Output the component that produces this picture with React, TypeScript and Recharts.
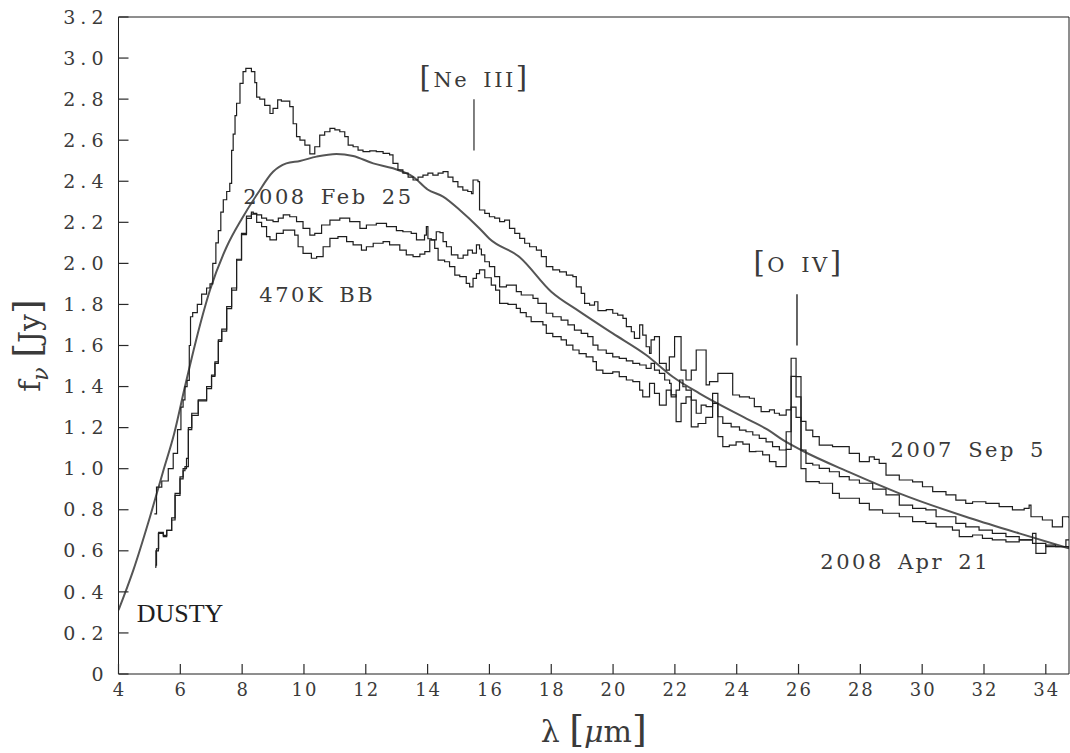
import React from 'react';
import { LineChart, Line, XAxis, YAxis, ReferenceLine, ReferenceDot } from 'recharts';

const FONT = '"DejaVu Serif", "Liberation Serif", serif';
const INK = '#1e1e1e';
const TEXT = '#3a3a3a';

const xTicks = [4, 6, 8, 10, 12, 14, 16, 18, 20, 22, 24, 26, 28, 30, 32, 34];
const yTicks = [0, 0.2, 0.4, 0.6, 0.8, 1.0, 1.2, 1.4, 1.6, 1.8, 2.0, 2.2, 2.4, 2.6, 2.8, 3.0, 3.2];

// 2007 Sep 5 (upper spectrum)
const sep5Wave = [
  5.16, 5.23, 5.4, 5.61, 5.77, 5.91, 6.02, 6.09, 6.15, 6.22, 6.29, 6.33, 6.4, 6.55, 6.69, 6.85, 6.96,
  7.05, 7.15, 7.23, 7.31, 7.39, 7.5, 7.6, 7.66, 7.71, 7.77, 7.82, 7.93, 8.03, 8.12, 8.3, 8.41, 8.47,
  8.57, 8.73, 8.9, 9.0, 9.15, 9.27, 9.43, 9.54, 9.65, 9.76, 9.87, 10.03, 10.19, 10.35, 10.51, 10.67,
  10.84, 11.0, 11.16, 11.32, 11.43, 11.59, 11.75, 11.91, 12.13, 12.34, 12.56, 12.77, 12.88, 13.04,
  13.2, 13.37, 13.53, 13.69, 13.85, 14.01, 14.17, 14.34, 14.5, 14.66, 14.82, 14.98, 15.14, 15.3,
  15.42, 15.47, 15.63, 15.68, 15.85, 16.0, 16.17, 16.33, 16.49, 16.65, 16.82, 16.98, 17.14, 17.3,
  17.52, 17.68, 17.84, 18.05, 18.27, 18.49, 18.7, 18.81, 18.97, 19.08, 19.24, 19.4, 19.51, 19.78,
  19.99, 20.15, 20.32, 20.43, 20.59, 20.69, 20.86, 20.96, 21.07, 21.18, 21.23, 21.34, 21.5, 21.72,
  21.82, 21.99, 22.2, 22.36, 22.53, 22.69, 23.01, 23.12, 23.39, 23.66, 23.87, 24.09, 24.41, 24.57,
  24.79, 25.06, 25.22, 25.38, 25.6, 25.76, 25.92, 26.08, 26.24, 26.46, 26.67, 27.1, 27.32, 27.64,
  27.97, 28.29, 28.45, 28.61, 28.83, 29.26, 29.69, 30.01, 30.34, 30.77, 31.09, 31.41, 31.63, 32.06,
  32.49, 32.92, 33.3, 33.46, 33.52, 33.89, 34.21, 34.54, 34.75,
];
const sep5Flux = [
  0.78, 0.91, 0.94, 1.0, 1.075, 1.19, 1.3, 1.335, 1.4, 1.43, 1.6, 1.74, 1.76, 1.8, 1.85, 1.88, 1.9,
  2.0, 2.1, 2.16, 2.25, 2.31, 2.35, 2.39, 2.55, 2.63, 2.72, 2.78, 2.877, 2.934, 2.95, 2.934, 2.88, 2.81,
  2.8, 2.77, 2.73, 2.755, 2.796, 2.79, 2.79, 2.763, 2.68, 2.617, 2.6, 2.576, 2.533, 2.568, 2.625, 2.641,
  2.658, 2.65, 2.641, 2.617, 2.576, 2.568, 2.552, 2.544, 2.548, 2.544, 2.536, 2.528, 2.487, 2.455,
  2.44, 2.42, 2.406, 2.42, 2.43, 2.44, 2.43, 2.44, 2.447, 2.42, 2.398, 2.373, 2.357, 2.35,
  2.34, 2.406, 2.398, 2.26, 2.244, 2.227, 2.22, 2.203, 2.211, 2.17, 2.146, 2.122, 2.098, 2.081,
  2.065, 2.033, 1.984, 1.968, 1.959, 1.943, 1.935, 1.886, 1.854, 1.805, 1.797, 1.813, 1.77, 1.775,
  1.757, 1.748, 1.732, 1.692, 1.667, 1.635, 1.7, 1.651, 1.594, 1.562, 1.627, 1.643, 1.513, 1.48,
  1.545, 1.643, 1.48, 1.432, 1.48, 1.578, 1.408, 1.424, 1.464, 1.464, 1.359, 1.35, 1.343, 1.302,
  1.278, 1.286, 1.27, 1.261, 1.286, 1.538, 1.448, 1.23, 1.188, 1.156, 1.115, 1.107, 1.107, 1.075,
  1.034, 1.058, 1.045, 1.026, 0.969, 0.945, 0.936, 0.912, 0.888, 0.872, 0.847, 0.831, 0.839, 0.831,
  0.815, 0.799, 0.807, 0.823, 0.766, 0.75, 0.717, 0.766, 0.76,
];

// 2008 Feb 25 (middle spectrum)
const feb25Wave = [
  5.18, 5.21, 5.29, 5.45, 5.56, 5.72, 5.83, 5.99, 6.09, 6.15, 6.26, 6.37, 6.58, 6.85, 7.01, 7.12, 7.23,
  7.34, 7.5, 7.66, 7.82, 7.98, 8.14, 8.3, 8.36, 8.47, 8.63, 8.79, 9.0, 9.17, 9.33, 9.54, 9.76, 9.97,
  10.19, 10.35, 10.57, 10.84, 11.16, 11.48, 11.81, 12.02, 12.34, 12.67, 12.99, 13.2, 13.47, 13.64,
  13.9, 13.96, 14.01, 14.12, 14.28, 14.4, 14.5, 14.61, 14.77, 14.98, 15.15, 15.3, 15.45, 15.58, 15.68,
  15.74, 15.85, 16.0, 16.17, 16.33, 16.55, 16.87, 17.03, 17.41, 17.57, 17.84, 18.05, 18.32, 18.54,
  18.75, 18.97, 19.18, 19.35, 19.51, 19.78, 19.99, 20.2, 20.43, 20.64, 20.86, 21.07, 21.23, 21.34,
  21.5, 21.67, 21.83, 21.88, 22.04, 22.15, 22.26, 22.36, 22.53, 22.69, 22.85, 23.01, 23.22, 23.39,
  23.55, 23.82, 24.09, 24.3, 24.52, 24.73, 24.95, 25.16, 25.38, 25.6, 25.76, 25.92, 26.08, 26.24,
  26.46, 26.67, 27.0, 27.32, 27.64, 27.97, 28.4, 28.83, 29.26, 29.69, 30.12, 30.45, 30.88, 31.09,
  31.41, 31.84, 32.27, 32.71, 33.14, 33.57, 33.68, 34.0, 34.32, 34.65, 34.75,
];
const feb25Flux = [
  0.52, 0.6, 0.685, 0.669, 0.7, 0.75, 0.88, 0.96, 0.99, 1.01, 1.19, 1.27, 1.335, 1.4, 1.456, 1.513, 1.627,
  1.68, 1.789, 1.87, 2.016, 2.146, 2.219, 2.25, 2.244, 2.236, 2.22, 2.211, 2.203, 2.22, 2.236, 2.227, 2.203, 2.17,
  2.138, 2.146, 2.187, 2.211, 2.22, 2.203, 2.17, 2.187, 2.195, 2.179, 2.16, 2.154, 2.146, 2.114,
  2.138, 2.179, 2.12, 2.114, 2.154, 2.15, 2.106, 2.081, 2.041, 2.025, 2.04, 2.065, 2.05, 2.09, 2.07,
  2.041, 2.008, 1.984, 1.935, 1.886, 1.894, 1.862, 1.846, 1.83, 1.805, 1.757, 1.74, 1.724, 1.7,
  1.675, 1.659, 1.643, 1.602, 1.578, 1.562, 1.545, 1.537, 1.525, 1.513, 1.505, 1.489, 1.513, 1.48,
  1.464, 1.432, 1.416, 1.35, 1.383, 1.432, 1.399, 1.383, 1.334, 1.27, 1.31, 1.302, 1.367, 1.253,
  1.221, 1.204, 1.188, 1.18, 1.164, 1.148, 1.131, 1.107, 1.091, 1.094, 1.45, 1.35, 1.091, 1.026,
  1.018, 1.002, 0.985, 0.961, 0.945, 0.929, 0.9, 0.872, 0.823, 0.807, 0.799, 0.766, 0.766, 0.734,
  0.717, 0.701, 0.685, 0.669, 0.653, 0.685, 0.588, 0.628, 0.62, 0.653, 0.65,
];

// 2008 Apr 21 (lower spectrum)
const apr21Wave = [
  5.2, 5.23, 5.3, 5.45, 5.56, 5.72, 5.83, 5.99, 6.09, 6.2, 6.26, 6.37, 6.58, 6.85, 7.01, 7.12, 7.23,
  7.34, 7.5, 7.66, 7.82, 7.98, 8.14, 8.3, 8.47, 8.63, 8.79, 8.9, 9.11, 9.33, 9.54, 9.7, 9.81, 9.97,
  10.24, 10.41, 10.62, 10.84, 11.1, 11.38, 11.59, 11.86, 12.02, 12.24, 12.56, 12.77, 13.1, 13.31,
  13.53, 13.75, 13.91, 14.07, 14.23, 14.34, 14.55, 14.71, 14.88, 15.04, 15.25, 15.36, 15.47, 15.58,
  15.68, 15.85, 16.06, 16.2, 16.33, 16.6, 16.87, 17.0, 17.19, 17.35, 17.73, 17.84, 18.05, 18.32,
  18.49, 18.7, 18.9, 19.13, 19.35, 19.46, 19.67, 19.99, 20.2, 20.43, 20.64, 20.86, 20.96, 21.18,
  21.34, 21.5, 21.72, 21.88, 22.04, 22.2, 22.36, 22.53, 22.75, 23.0, 23.22, 23.39, 23.55, 23.76,
  23.98, 24.2, 24.41, 24.62, 24.84, 25.06, 25.27, 25.45, 25.6, 25.76, 25.92, 26.08, 26.24, 26.67,
  27.1, 27.32, 27.75, 27.97, 28.29, 28.72, 29.26, 29.69, 30.12, 30.45, 30.98, 31.2, 31.63, 31.95,
  32.27, 32.71, 33.14, 33.57, 34.0, 34.43, 34.75,
];
const apr21Flux = [
  0.53, 0.61, 0.69, 0.675, 0.7, 0.76, 0.87, 0.95, 1.0, 1.05, 1.2, 1.26, 1.33, 1.39, 1.45, 1.52, 1.62,
  1.67, 1.78, 1.88, 2.02, 2.14, 2.23, 2.24, 2.2, 2.179, 2.13, 2.114, 2.146, 2.162, 2.162, 2.138, 2.081, 2.049,
  2.025, 2.033, 2.081, 2.122, 2.13, 2.106, 2.09, 2.065, 2.081, 2.098, 2.106, 2.09, 2.065, 2.041,
  2.033, 2.045, 2.057, 2.114, 2.073, 2.016, 2.008, 1.984, 1.943, 1.935, 1.903, 1.886, 1.927, 1.95,
  1.968, 1.93, 1.894, 1.87, 1.805, 1.8, 1.781, 1.76, 1.74, 1.716, 1.7, 1.659, 1.643, 1.627,
  1.602, 1.578, 1.56, 1.545, 1.521, 1.48, 1.464, 1.472, 1.448, 1.432, 1.424, 1.383, 1.35, 1.416,
  1.367, 1.31, 1.383, 1.36, 1.229, 1.318, 1.35, 1.204, 1.22, 1.25, 1.318, 1.156, 1.107, 1.115,
  1.131, 1.12, 1.083, 1.085, 1.067, 1.034, 1.01, 1.01, 1.18, 1.3, 1.25, 1.0, 0.937, 0.929,
  0.88, 0.856, 0.856, 0.831, 0.799, 0.783, 0.766, 0.742, 0.734, 0.717, 0.701, 0.669, 0.677, 0.661,
  0.653, 0.644, 0.653, 0.636, 0.62, 0.62, 0.61,
];

// DUSTY model
const dustyWave = [
  4.0, 4.48, 5.02, 5.45, 5.8, 6.15, 6.5, 6.96, 7.5, 8.0, 8.5, 9.0, 9.43, 9.87, 10.41, 11.05, 11.59,
  12.24, 12.88, 13.53, 14.0, 14.5, 15.04, 15.68, 16.0, 16.98, 18.0, 18.92, 19.99, 21.07, 21.93,
  22.79, 24.41, 25.0, 25.49, 26.08, 27.64, 29.26, 31.41, 33.14, 34.75,
];
const dustyFlux = [
  0.311, 0.506, 0.766, 0.99, 1.17, 1.4, 1.62, 1.87, 2.081, 2.22, 2.34, 2.446, 2.487, 2.499, 2.52, 2.533, 2.523,
  2.487, 2.463, 2.422, 2.36, 2.325, 2.26, 2.17, 2.12, 2.03, 1.862, 1.765, 1.659, 1.554, 1.448,
  1.367, 1.237, 1.19, 1.14, 1.091, 0.983, 0.88, 0.766, 0.685, 0.612,
];

const toPoints = (wave: number[], flux: number[]) => wave.map((x, i) => ({ x, y: flux[i] }));

const sep5 = toPoints(sep5Wave, sep5Flux);
const feb25 = toPoints(feb25Wave, feb25Flux);
const apr21 = toPoints(apr21Wave, apr21Flux);
const dusty = toPoints(dustyWave, dustyFlux);

const TICK_LEN = 10;
const TICK_INK = '#2a2a2a';

// inward ticks, drawn by hand since recharts only draws them outward
const BottomTick = (props: any) => {
  const { x, y, payload } = props;
  return (
    <g>
      <path d={`M${x},${y}V${y - TICK_LEN}`} stroke={TICK_INK} strokeWidth={1.2} fill="none" />
      <text x={x + 1} y={y + 9} dy="0.71em" textAnchor="middle" fontFamily={FONT} fontSize={18} fill={TEXT} letterSpacing={2}>
        {payload.value}
      </text>
    </g>
  );
};

const LeftTick = (props: any) => {
  const { x, y, payload } = props;
  const v = payload.value as number;
  return (
    <g>
      <path d={`M${x},${y}H${x + TICK_LEN}`} stroke={TICK_INK} strokeWidth={1.2} fill="none" />
      <text x={x - 10} y={y} dy="0.35em" textAnchor="end" fontFamily={FONT} fontSize={19} fill={TEXT} letterSpacing={5}>
        {v === 0 ? '0' : v.toFixed(1)}
      </text>
    </g>
  );
};

const TopTick = (props: any) => {
  const { x, y } = props;
  return <path d={`M${x},${y}V${y + TICK_LEN}`} stroke={TICK_INK} strokeWidth={1.2} fill="none" />;
};

const RightTick = (props: any) => {
  const { x, y } = props;
  return <path d={`M${x},${y}H${x - TICK_LEN}`} stroke={TICK_INK} strokeWidth={1.2} fill="none" />;
};

const noteLabel = (text: React.ReactNode) => (props: any) => {
  const vb = props.viewBox || {};
  const cx = (vb.x ?? 0) + (vb.width ?? 0) / 2;
  const cy = (vb.y ?? 0) + (vb.height ?? 0) / 2;
  return (
    <text
      x={cx}
      y={cy}
      dy="0.35em"
      textAnchor="middle"
      fontFamily={FONT}
      fontSize={21}
      fill={TEXT}
      letterSpacing={2.5}
      wordSpacing={5}
    >
      {text}
    </text>
  );
};

export default function App() {
  return (
    <div style={{ width: 1070, height: 753, background: '#fff' }}>
      <style>{'body{margin:0}'}</style>
      <LineChart
        width={1070}
        height={753}
        margin={{ top: 16, right: 0, bottom: 0, left: 0 }}
        style={{ background: '#fff' }}
      >
        <XAxis
          dataKey="x"
          type="number"
          domain={[4, 34.75]}
          ticks={xTicks}
          interval={0}
          allowDataOverflow
          height={79}
          stroke={INK}
          tickSize={0}
          tickMargin={0}
          tickLine={false}
          tick={<BottomTick />}
          label={(props: any) => {
            const vb = props.viewBox;
            const cx = vb.x + vb.width / 2;
            return (
              <text x={cx} y={vb.y + 68} textAnchor="middle" fontFamily={FONT} fontSize={30} fill={TEXT}>
                <tspan>λ </tspan>
                <tspan fontSize={38}>[</tspan>
                <tspan fontStyle="italic">μ</tspan>
                <tspan>m</tspan>
                <tspan fontSize={38}>]</tspan>
              </text>
            );
          }}
        />
        <XAxis
          xAxisId="top"
          orientation="top"
          type="number"
          domain={[4, 34.75]}
          ticks={xTicks}
          interval={0}
          allowDataOverflow
          height={1}
          stroke={INK}
          tickSize={0}
          tickMargin={0}
          tickLine={false}
          tick={<TopTick />}
        />
        <YAxis
          type="number"
          domain={[0, 3.2]}
          ticks={yTicks}
          interval={0}
          allowDataOverflow
          width={118.5}
          stroke={INK}
          tickSize={0}
          tickMargin={0}
          tickLine={false}
          tick={<LeftTick />}
          label={(props: any) => {
            const vb = props.viewBox;
            const cx = 40;
            const cy = vb.y + vb.height / 2;
            return (
              <text
                x={cx}
                y={cy}
                textAnchor="middle"
                transform={`rotate(-90, ${cx}, ${cy})`}
                fontFamily={FONT}
                fontSize={30}
                fill={TEXT}
              >
                <tspan>f</tspan>
                <tspan dy={8} fontSize={22} fontStyle="italic">ν</tspan>
                <tspan dy={-8}>  </tspan>
                <tspan fontSize={38}>[</tspan>
                <tspan>Jy</tspan>
                <tspan fontSize={38}>]</tspan>
              </text>
            );
          }}
        />
        <YAxis
          yAxisId="right"
          orientation="right"
          type="number"
          domain={[0, 3.2]}
          ticks={yTicks}
          interval={0}
          width={1}
          stroke={INK}
          tickSize={0}
          tickMargin={0}
          tickLine={false}
          tick={<RightTick />}
        />

        <Line data={dusty} dataKey="y" type="monotone" stroke="#555" strokeWidth={2} dot={false} isAnimationActive={false} />
        <Line data={sep5} dataKey="y" type="stepAfter" stroke={INK} strokeWidth={1.2} dot={false} isAnimationActive={false} />
        <Line data={feb25} dataKey="y" type="stepAfter" stroke={INK} strokeWidth={1.2} dot={false} isAnimationActive={false} />
        <Line data={apr21} dataKey="y" type="stepAfter" stroke={INK} strokeWidth={1.2} dot={false} isAnimationActive={false} />

        <ReferenceLine segment={[{ x: 15.5, y: 2.55 }, { x: 15.5, y: 2.8 }]} stroke="#555" strokeWidth={1.5} />
        <ReferenceLine segment={[{ x: 25.95, y: 1.6 }, { x: 25.95, y: 1.85 }]} stroke="#333" strokeWidth={1.5} />

        <ReferenceDot x={15.52} y={2.893} r={1} fill="none" stroke="none" label={noteLabel(
          <>
            <tspan fontSize={29}>[</tspan>Ne III<tspan fontSize={29}>]</tspan>
          </>
        )} />
        <ReferenceDot x={26.0} y={1.992} r={1} fill="none" stroke="none" label={noteLabel(
          <>
            <tspan fontSize={29}>[</tspan>O IV<tspan fontSize={29}>]</tspan>
          </>
        )} />
        <ReferenceDot x={10.79} y={2.323} r={1} fill="none" stroke="none" label={noteLabel('2008 Feb 25')} />
        <ReferenceDot x={10.43} y={1.846} r={1} fill="none" stroke="none" label={noteLabel('470K BB')} />
        <ReferenceDot x={31.49} y={1.091} r={1} fill="none" stroke="none" label={noteLabel('2007 Sep 5')} />
        <ReferenceDot x={29.45} y={0.545} r={1} fill="none" stroke="none" label={noteLabel('2008 Apr 21')} />
        <ReferenceDot x={5.99} y={0.298} r={1} fill="none" stroke="none" label={(props: any) => {
          const vb = props.viewBox;
          return (
            <text x={vb.x + vb.width / 2} y={vb.y + vb.height / 2} dy="0.35em" textAnchor="middle"
              fontFamily='"Liberation Serif", serif' fontSize={26} fill={INK}>
              DUSTY
            </text>
          );
        }} />
      </LineChart>
    </div>
  );
}
